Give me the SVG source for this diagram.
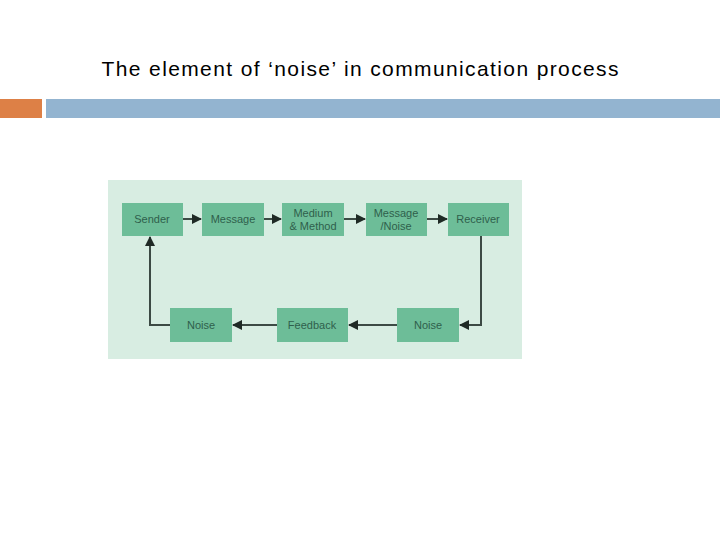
<svg xmlns="http://www.w3.org/2000/svg" width="720" height="540" viewBox="0 0 720 540">
<style>
.t{font-family:"Liberation Sans",Arial,sans-serif}
.b{fill:#6dbd98}
.l{font-family:"Liberation Sans",Arial,sans-serif;font-size:11px;fill:#2f5f4c;text-anchor:middle}
.c{stroke:#3c4a44;stroke-width:2;fill:none;marker-end:url(#a)}
</style>
<defs><marker id="a" viewBox="0 0 10 10" refX="9" refY="5" markerWidth="5" markerHeight="5" orient="auto"><path d="M0,0L10,5L0,10z" fill="#1f2a25"/></marker></defs>
<rect width="720" height="540" fill="#fff"/>
<text class="t" x="360" y="76" font-size="21" text-anchor="middle" fill="#000" textLength="517" lengthAdjust="spacing">The element of ‘noise’ in communication process</text>
<rect x="0" y="99" width="42" height="19" fill="#dd8046"/>
<rect x="46" y="99" width="674" height="19" fill="#93b4d0"/>
<rect x="108" y="180" width="414" height="179" fill="#d8ede2"/>
<g id="sender"><rect class="b" x="122" y="203" width="61" height="33"/><text class="l" x="152" y="223">Sender</text></g>
<g id="message"><rect class="b" x="202" y="203" width="62" height="33"/><text class="l" x="233" y="223">Message</text></g>
<g id="medium"><rect class="b" x="282" y="203" width="62" height="33"/><text class="l" x="313" y="217">Medium</text><text class="l" x="313" y="230">&amp; Method</text></g>
<g id="msgnoise"><rect class="b" x="366" y="203" width="61" height="33"/><text class="l" x="396" y="217">Message</text><text class="l" x="396" y="230">/Noise</text></g>
<g id="receiver"><rect class="b" x="448" y="203" width="61" height="33"/><text class="l" x="478" y="223">Receiver</text></g>
<g id="noise2"><rect class="b" x="397" y="308" width="62" height="34"/><text class="l" x="428" y="329">Noise</text></g>
<g id="feedback"><rect class="b" x="277" y="308" width="71" height="34"/><text class="l" x="312" y="329">Feedback</text></g>
<g id="noise1"><rect class="b" x="170" y="308" width="62" height="34"/><text class="l" x="201" y="329">Noise</text></g>
<g id="connectors">
<path class="c" d="M183,219H201"/>
<path class="c" d="M264,219H281"/>
<path class="c" d="M344,219H365"/>
<path class="c" d="M427,219H447"/>
<path class="c" d="M481,236V325H460"/>
<path class="c" d="M397,325H349"/>
<path class="c" d="M277,325H233"/>
<path class="c" d="M170,325H150V237"/>
</g>
</svg>
